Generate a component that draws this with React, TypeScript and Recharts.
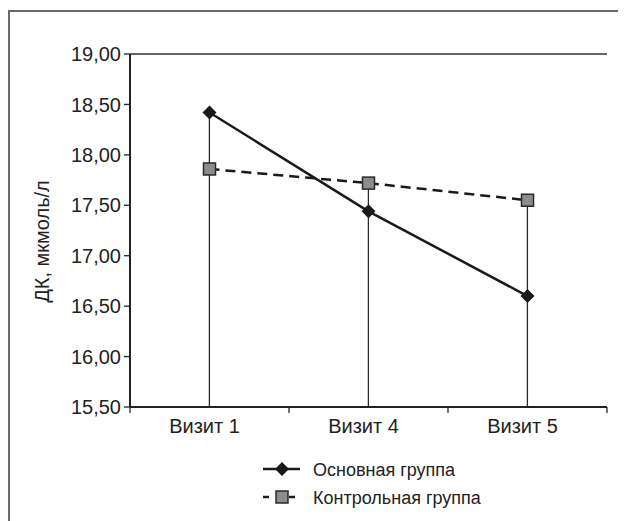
import { ComposedChart, Line, Bar, XAxis, YAxis, CartesianGrid, Legend } from "recharts";

const visits = ["Визит 1", "Визит 4", "Визит 5"];
const mainGroup = [18.42, 17.44, 16.6];
const controlGroup = [17.86, 17.72, 17.55];
const yTicks = [15.5, 16, 16.5, 17, 17.5, 18, 18.5, 19];

const data = visits.map((v, i) => ({
  visit: v,
  main: mainGroup[i],
  control: controlGroup[i],
  top: Math.max(mainGroup[i], controlGroup[i]),
}));

const W = 626;
const H = 521;
const LEFT = 130;
const RIGHT_M = 19;
const BAND = (W - LEFT - RIGHT_M) / visits.length;
const FONT = "'Liberation Sans', Arial, sans-serif";

function Diamond({ cx, cy }: any) {
  if (cx == null || cy == null) return null;
  const r = 7;
  return <polygon points={`${cx},${cy - r} ${cx + r},${cy} ${cx},${cy + r} ${cx - r},${cy}`} fill="#1a1a1a" />;
}

function Square({ cx, cy }: any) {
  if (cx == null || cy == null) return null;
  const s = 12;
  return <rect x={cx - s / 2} y={cy - s / 2} width={s} height={s} fill="#8c8c8c" stroke="#2a2a2a" strokeWidth={1.5} />;
}

function DropLine({ x, y, width, height }: any) {
  const cx = x + width / 2;
  return <line x1={cx} y1={y} x2={cx} y2={y + height} stroke="#2a2a2a" strokeWidth={1.3} />;
}

function XTick({ x, y, payload, index }: any) {
  const left = x - BAND / 2;
  return (
    <g>
      <line x1={left} y1={y - 8} x2={left} y2={y - 2} stroke="#2a2a2a" strokeWidth={1.3} />
      {index === visits.length - 1 && (
        <line x1={x + BAND / 2} y1={y - 8} x2={x + BAND / 2} y2={y - 2} stroke="#2a2a2a" strokeWidth={1.3} />
      )}
      <text x={x - 5} y={y + 18} textAnchor="middle" fontSize={20} fill="#222" fontFamily={FONT}>
        {payload.value}
      </text>
    </g>
  );
}

function YLabel({ viewBox }: any) {
  const cx = 42;
  const cy = viewBox.y + viewBox.height / 2 + 11;
  return (
    <text
      x={cx}
      y={cy}
      transform={`rotate(-90, ${cx}, ${cy})`}
      textAnchor="middle"
      dominantBaseline="central"
      fontSize={20}
      fill="#222"
      fontFamily={FONT}
    >
      ДК, мкмоль/л
    </text>
  );
}

function LegendBox() {
  return (
    <svg width={260} height={50} style={{ display: "block" }}>
      <line x1={0} y1={11} x2={37} y2={11} stroke="#1a1a1a" strokeWidth={2.5} />
      <Diamond cx={19} cy={11} />
      <text x={50} y={17.5} fontSize={18} fill="#222" fontFamily={FONT}>Основная группа</text>
      <line x1={0} y1={39} x2={37} y2={39} stroke="#1a1a1a" strokeWidth={2.5} strokeDasharray="6 7" />
      <Square cx={19} cy={39} />
      <text x={50} y={45.5} fontSize={18} fill="#222" fontFamily={FONT}>Контрольная группа</text>
    </svg>
  );
}

export default function App() {
  return (
    <div style={{ position: "relative", width: W - 8, height: H - 8 }}>
      <ComposedChart
        width={W}
        height={H}
        data={data}
        margin={{ top: 54, right: RIGHT_M, left: 0, bottom: 84 }}
        style={{ position: "absolute", left: -8, top: -8 }}
      >
        <CartesianGrid vertical={false} stroke="#333" strokeWidth={1.3} />
        <XAxis
          dataKey="visit"
          height={30}
          tickLine={false}
          axisLine={{ stroke: "#222", strokeWidth: 2 }}
          tick={<XTick />}
          interval={0}
        />
        <YAxis
          yAxisId="l"
          width={LEFT}
          domain={[15.5, 19]}
          ticks={yTicks}
          interval={0}
          tickFormatter={(v: number) => v.toFixed(2).replace(".", ",")}
          tick={{ fontSize: 20, fill: "#222", fontFamily: FONT }}
          tickSize={6}
          tickMargin={3}
          tickLine={{ stroke: "#222", strokeWidth: 1.3 }}
          axisLine={{ stroke: "#222", strokeWidth: 2 }}
          label={<YLabel />}
        />
        <YAxis
          yAxisId="r"
          orientation="right"
          width={0}
          domain={[15.5, 19]}
          tick={false}
          tickLine={false}
          axisLine={{ stroke: "#222", strokeWidth: 2 }}
        />
        <Bar yAxisId="l" dataKey="top" shape={<DropLine />} isAnimationActive={false} legendType="none" />
        <Line
          yAxisId="l"
          dataKey="control"
          stroke="#1a1a1a"
          strokeWidth={2.5}
          strokeDasharray="10 6"
          dot={<Square />}
          activeDot={false}
          isAnimationActive={false}
        />
        <Line
          yAxisId="l"
          dataKey="main"
          stroke="#1a1a1a"
          strokeWidth={2.5}
          dot={<Diamond />}
          activeDot={false}
          isAnimationActive={false}
        />
        <Legend
          layout="vertical"
          align="center"
          verticalAlign="middle"
          content={<LegendBox />}
          wrapperStyle={{ position: "absolute", left: 263, top: 458, width: 260 }}
        />
      </ComposedChart>
      <svg
        width={W}
        height={H}
        style={{ position: "absolute", left: -8, top: -8, zIndex: 10, pointerEvents: "none", overflow: "visible" }}
      >
        <path d={`M9 ${H} V11 H${W}`} fill="none" stroke="#6a6a6a" strokeWidth={2} />
      </svg>
    </div>
  );
}
